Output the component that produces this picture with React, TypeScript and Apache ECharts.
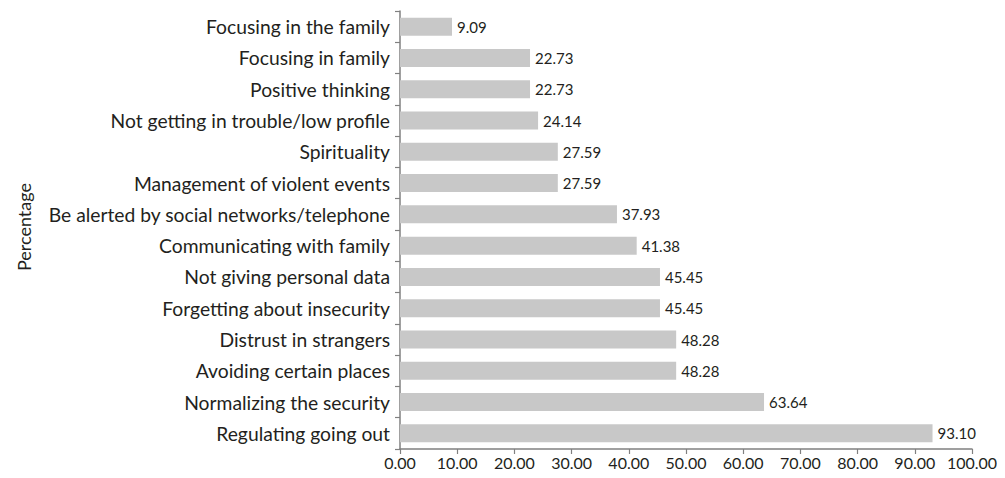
import React, { useEffect, useRef } from "react";
import * as echarts from "echarts";

const categories = [
  "Focusing in the family",
  "Focusing in family",
  "Positive thinking",
  "Not getting in trouble/low profile",
  "Spirituality",
  "Management of violent events",
  "Be alerted by social networks/telephone",
  "Communicating with family",
  "Not giving personal data",
  "Forgetting about insecurity",
  "Distrust in strangers",
  "Avoiding certain places",
  "Normalizing the security",
  "Regulating going out",
];

const values = [9.09, 22.73, 22.73, 24.14, 27.59, 27.59, 37.93, 41.38, 45.45, 45.45, 48.28, 48.28, 63.64, 93.1];

const axisName = "Percentage";

const FONT = "Lato";
const TEXT = "#231f20";

export default function App() {
  const ref = useRef<HTMLDivElement>(null);
  useEffect(() => {
    const chart = echarts.init(ref.current!, null, { renderer: "svg" });
    chart.setOption({
      animation: false,
      textStyle: { fontFamily: FONT, color: TEXT },
      grid: { left: 400, right: 33, top: 11, bottom: 29, containLabel: false },
      xAxis: {
        type: "value",
        min: 0,
        max: 100,
        interval: 10,
        axisLine: { show: true, lineStyle: { color: "#808080", width: 1.5 } },
        axisTick: { show: true, length: 5, lineStyle: { color: "#808080", width: 1.2 } },
        splitLine: { show: false },
        axisLabel: {
          formatter: (v: number) => v.toFixed(2),
          fontSize: 16,
          color: TEXT,
          fontFamily: FONT,
          margin: 5,
        },
      },
      yAxis: {
        type: "category",
        data: categories,
        inverse: true,
        axisLine: { show: true, lineStyle: { color: "#808080", width: 1.5 } },
        axisTick: { show: true, length: 5, alignWithLabel: false, lineStyle: { color: "#808080", width: 1.2 } },
        axisLabel: { fontSize: 19.3, color: TEXT, fontFamily: FONT, margin: 10 },
      },
      series: [
        {
          type: "bar",
          data: values,
          barWidth: 18,
          itemStyle: { color: "#c8c8c8" },
          label: {
            show: true,
            position: "right",
            distance: 5,
            fontSize: 15,
            color: TEXT,
            fontFamily: FONT,
            formatter: (p: any) => Number(p.value).toFixed(2),
          },
        },
      ],
      graphic: [
        {
          type: "text",
          x: 24,
          y: 227,
          rotation: Math.PI / 2,
          style: {
            text: axisName,
            fontSize: 18,
            fontFamily: FONT,
            fill: TEXT,
            align: "center",
            verticalAlign: "middle",
          },
        },
      ],
    });
    return () => chart.dispose();
  }, []);
  return <div ref={ref} style={{ width: 1005, height: 478, margin: -8 }} />;
}
